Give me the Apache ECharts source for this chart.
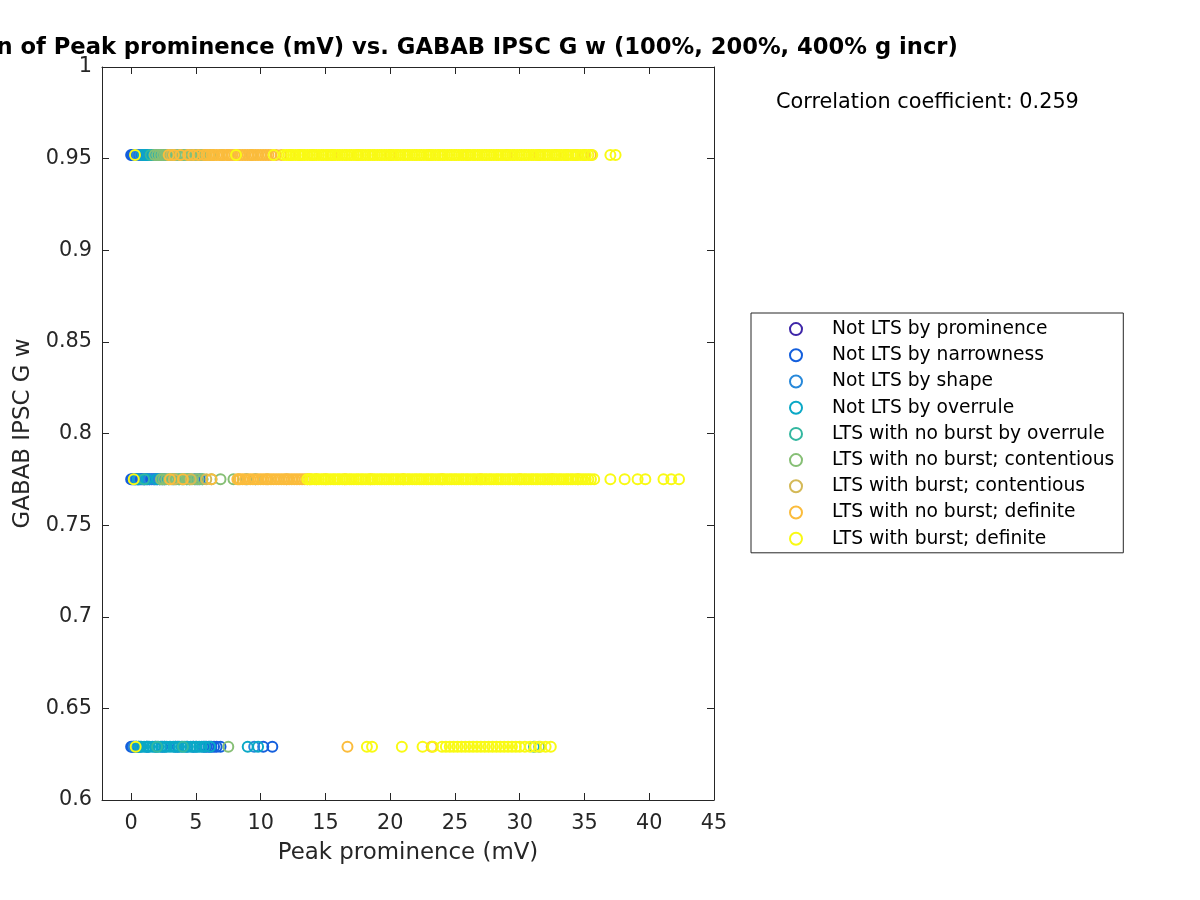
<!DOCTYPE html>
<html>
<head>
<meta charset="utf-8">
<script src="https://cdn.jsdelivr.net/npm/echarts@6/dist/echarts.min.js"></script>
<style>
html,body{margin:0;padding:0;background:#ffffff;}
#chart{width:1200px;height:900px;}
</style>
</head>
<body>
<div id="chart"></div>
<script>
// ---------- data ----------
const titleText = 'Distribution of Peak prominence (mV) vs. GABAB IPSC G w (100%, 200%, 400% g incr)';
const xAxisName = 'Peak prominence (mV)';
const yAxisName = 'GABAB IPSC G w';
const correlationText = 'Correlation coefficient: 0.259';

const seriesNames = [
  'Not LTS by prominence',
  'Not LTS by narrowness',
  'Not LTS by shape',
  'Not LTS by overrule',
  'LTS with no burst by overrule',
  'LTS with no burst; contentious',
  'LTS with burst; contentious',
  'LTS with no burst; definite',
  'LTS with burst; definite'
];
const seriesColors = ['#3E26A8','#145FDD','#2788DA','#0AA8C6','#33B7A0','#86BF75','#D4B957','#FBBC3C','#F9FA14'];

// y levels of the three rows (100%, 200%, 400% g incr)
const rowLevels = [0.952, 0.775, 0.629];

// x values (mV) per class, per row [hi, mid, lo]
const prominenceHi = [];
const prominenceMid = [];
const prominenceLo = [];

const narrownessHi = [0.0, 0.1, 0.15, 0.2, 0.3, 0.4, 0.5, 0.6, 0.7, 0.8, 0.95, 1.1];
const narrownessMid = [0.0, 0.1, 0.2, 0.3, 0.4, 0.5, 0.6, 0.7, 0.8, 0.9, 1.0, 1.1, 1.25, 1.4, 1.55, 1.7, 1.85, 2.0, 2.2, 2.4, 2.55, 4.9, 5.3];
const narrownessLo = [0.0, 0.1, 0.2, 0.3, 0.4, 0.55, 1.3, 2.4, 3.6, 4.8, 5.6, 5.8, 6.0, 6.2, 6.4, 6.6, 6.9, 10.2, 10.9];

const shapeHi = [0.3, 0.5, 0.7, 0.9, 1.1, 1.3, 1.5, 1.7, 2.0, 2.4];
const shapeMid = [0.3, 0.6, 1.0, 1.4, 1.8, 2.2, 2.6, 3.2, 4.0, 5.1];
const shapeLo = [0.2, 0.7, 1.2, 1.9, 2.6, 3.4, 4.3, 5.0, 9.5];

const overruleHi = [0.9, 1.1, 1.3, 1.5, 1.7, 1.9, 2.1, 2.3, 2.5, 2.7, 3.0, 3.4, 4.0, 4.8, 5.4];
const overruleMid = [0.5, 1.2, 2.0, 2.9, 3.7, 4.5, 8.9, 9.6];
const overruleLo = [0.4, 0.6, 0.8, 1.0, 1.2, 1.4, 1.65, 1.85, 2.1, 2.3, 2.55, 2.75, 3.0, 3.25, 3.45, 3.7, 3.9, 4.15, 4.35, 4.6, 4.8, 5.05, 5.25, 5.45, 5.7, 6.1, 9.0, 9.8, 31.1];

const noBurstOverruleHi = [1.5, 2.2, 3.0, 3.8, 4.6, 5.4, 6.1];
const noBurstOverruleMid = [1.0, 2.4, 3.4, 4.3, 5.5];
const noBurstOverruleLo = [2.0, 4.0];

const noBurstContentiousHi = [1.8, 2.0, 2.2, 2.4, 2.6, 2.8, 3.0, 3.2, 3.4, 3.6, 3.8, 4.0, 4.2, 4.4, 4.6, 4.8, 5.0, 5.2, 5.4, 5.6, 5.8, 6.2, 7.0];
const noBurstContentiousMid = [2.3, 2.5, 2.7, 2.9, 3.1, 3.3, 3.5, 3.7, 3.9, 4.1, 4.3, 4.5, 4.7, 5.0, 5.2, 5.5, 6.2, 6.9, 7.9];
const noBurstContentiousLo = [7.5, 31.5];

const burstContentiousHi = [3.1, 4.5, 6.3, 7.5, 9.3];
const burstContentiousMid = [3.3, 4.6, 5.8, 8.3, 10.5, 12.0];
const burstContentiousLo = [];

const noBurstDefiniteHi = [2.9, 3.3, 3.8, 4.4, 4.8, 5.2, 5.6, 5.8, 6.0, 6.2, 6.4, 6.6, 6.8, 7.0, 7.2, 7.4, 7.6, 7.8, 8.0, 8.2, 8.4, 8.6, 8.8, 9.0, 9.2, 9.4, 9.6, 9.8, 10.0, 10.2, 10.4, 10.6, 10.8, 11.2, 11.6, 12.3, 13.0, 14.0, 15.5, 17.5, 20.0, 23.0, 26.0, 29.0, 31.5, 32.8, 33.6, 34.3, 35.0, 35.5];
const noBurstDefiniteMid = [3.0, 4.0, 6.2, 8.2, 8.4, 8.6, 8.8, 9.0, 9.2, 9.4, 9.6, 9.8, 10.0, 10.2, 10.4, 10.6, 10.8, 11.0, 11.2, 11.4, 11.6, 11.8, 12.0, 12.2, 12.4, 12.6, 12.8, 13.0, 13.2, 13.4, 13.6, 13.8, 14.3, 15.0, 16.5, 18.5, 21.0, 24.0, 27.0, 30.0, 32.5, 34.5];
const noBurstDefiniteLo = [16.7, 23.2];

const burstDefiniteHi = [0.3, 8.1, 11.0, 11.8, 12.0, 12.15, 12.35, 12.5, 12.7, 12.9, 13.05, 13.25, 13.4, 13.6, 13.8, 13.95, 14.15, 14.3, 14.5, 14.7, 14.85, 15.05, 15.2, 15.4, 15.6, 15.75, 15.95, 16.1, 16.3, 16.5, 16.65, 16.85, 17.0, 17.2, 17.4, 17.55, 17.75, 17.9, 18.1, 18.3, 18.45, 18.65, 18.8, 19.0, 19.2, 19.35, 19.55, 19.7, 19.9, 20.1, 20.25, 20.45, 20.6, 20.8, 21.0, 21.15, 21.35, 21.5, 21.7, 21.9, 22.05, 22.25, 22.4, 22.6, 22.8, 22.95, 23.15, 23.3, 23.5, 23.7, 23.85, 24.05, 24.2, 24.4, 24.6, 24.75, 24.95, 25.1, 25.3, 25.5, 25.65, 25.85, 26.0, 26.2, 26.4, 26.55, 26.75, 26.9, 27.1, 27.3, 27.45, 27.65, 27.8, 28.0, 28.2, 28.35, 28.55, 28.7, 28.9, 29.1, 29.25, 29.45, 29.6, 29.8, 30.0, 30.15, 30.35, 30.5, 30.7, 30.9, 31.05, 31.25, 31.4, 31.6, 31.8, 31.95, 32.15, 32.3, 32.5, 32.7, 32.85, 33.05, 33.2, 33.4, 33.6, 33.75, 33.95, 34.1, 34.3, 34.5, 34.7, 34.9, 35.1, 35.3, 35.6, 37.0, 37.4];
const burstDefiniteMid = [0.2, 13.6, 13.8, 13.95, 14.15, 14.3, 14.5, 14.7, 14.85, 15.05, 15.2, 15.4, 15.6, 15.75, 15.95, 16.1, 16.3, 16.5, 16.65, 16.85, 17.0, 17.2, 17.4, 17.55, 17.75, 17.9, 18.1, 18.3, 18.45, 18.65, 18.8, 19.0, 19.2, 19.35, 19.55, 19.7, 19.9, 20.1, 20.25, 20.45, 20.6, 20.8, 21.0, 21.15, 21.35, 21.5, 21.7, 21.9, 22.05, 22.25, 22.4, 22.6, 22.8, 22.95, 23.15, 23.3, 23.5, 23.7, 23.85, 24.05, 24.2, 24.4, 24.6, 24.75, 24.95, 25.1, 25.3, 25.5, 25.65, 25.85, 26.0, 26.2, 26.4, 26.55, 26.75, 26.9, 27.1, 27.3, 27.45, 27.65, 27.8, 28.0, 28.2, 28.35, 28.55, 28.7, 28.9, 29.1, 29.25, 29.45, 29.6, 29.8, 30.0, 30.15, 30.35, 30.5, 30.7, 30.9, 31.05, 31.25, 31.4, 31.6, 31.8, 31.95, 32.15, 32.3, 32.5, 32.7, 32.85, 33.05, 33.2, 33.4, 33.6, 33.75, 33.95, 34.1, 34.3, 34.5, 34.7, 34.9, 35.1, 35.3, 35.5, 35.75, 37.0, 38.1, 39.1, 39.7, 41.1, 41.7, 42.3];
const burstDefiniteLo = [0.35, 18.2, 18.6, 20.9, 22.5, 23.3, 24.0, 24.3, 24.6, 24.9, 25.2, 25.5, 25.8, 26.1, 26.4, 26.7, 27.0, 27.3, 27.6, 27.9, 28.2, 28.5, 28.8, 29.1, 29.4, 29.7, 30.0, 30.4, 30.8, 31.2, 31.6, 32.0, 32.4];

const xTickValues = [0, 5, 10, 15, 20, 25, 30, 35, 40, 45];

// ---------- assembly ----------
const classRows = [
  [prominenceHi, prominenceMid, prominenceLo],
  [narrownessHi, narrownessMid, narrownessLo],
  [shapeHi, shapeMid, shapeLo],
  [overruleHi, overruleMid, overruleLo],
  [noBurstOverruleHi, noBurstOverruleMid, noBurstOverruleLo],
  [noBurstContentiousHi, noBurstContentiousMid, noBurstContentiousLo],
  [burstContentiousHi, burstContentiousMid, burstContentiousLo],
  [noBurstDefiniteHi, noBurstDefiniteMid, noBurstDefiniteLo],
  [burstDefiniteHi, burstDefiniteMid, burstDefiniteLo]
];

const FONT = 'DejaVu Sans';
const AX = '#262626';
const F = 20.8;

const series = seriesNames.map((name, i) => ({
  name: name,
  type: 'scatter',
  xAxisIndex: 0,
  yAxisIndex: 0,
  symbol: 'circle',
  symbolSize: 10,
  itemStyle: { color: 'rgba(0,0,0,0)', borderColor: seriesColors[i], borderWidth: 2, opacity: 1 },
  emphasis: { disabled: true },
  data: classRows[i].map((xs, r) => xs.map(x => [x, rowLevels[r]])).flat()
}));

const baseX = {
  type: 'value', min: -2.25, max: 45,
  splitLine: { show: false },
  axisLine: { show: true, onZero: false, lineStyle: { color: AX, width: 1 } },
  axisTick: { show: true, inside: true, length: 7, customValues: xTickValues, lineStyle: { color: AX } },
  axisLabel: { show: true, customValues: xTickValues, margin: 13, color: AX, fontFamily: FONT, fontSize: F },
  minorTick: { show: false }
};
const baseY = {
  type: 'value', min: 0.6, max: 1, interval: 0.05,
  splitLine: { show: false },
  axisLine: { show: true, onZero: false, lineStyle: { color: AX, width: 1 } },
  axisTick: { show: true, inside: true, length: 7, lineStyle: { color: AX } },
  axisLabel: { show: true, margin: 10, color: AX, fontFamily: FONT, fontSize: F,
    formatter: v => String(Math.round(v * 100) / 100) }
};

const option = {
  animation: false,
  backgroundColor: '#ffffff',
  grid: { left: 102, top: 67, right: 486, bottom: 100, outerBoundsMode: 'none', containLabel: false },
  xAxis: [
    Object.assign({}, baseX, {
      position: 'bottom',
      name: xAxisName, nameLocation: 'middle', nameGap: 42,
      nameTextStyle: { color: AX, fontFamily: FONT, fontSize: 22.9 }
    }),
    Object.assign({}, baseX, { position: 'top', axisLabel: { show: false } })
  ],
  yAxis: [
    Object.assign({}, baseY, {
      position: 'left',
      name: yAxisName, nameLocation: 'middle', nameGap: 61, nameRotate: 90,
      nameTextStyle: { color: AX, fontFamily: FONT, fontSize: 22.9 }
    }),
    Object.assign({}, baseY, { position: 'right', axisLabel: { show: false } })
  ],
  legend: {
    orient: 'vertical',
    left: 751, top: 313,
    padding: [3, 9, 1, 38],
    itemGap: 0,
    itemWidth: 12, itemHeight: 12,
    borderColor: AX, borderWidth: 1, borderRadius: 0,
    backgroundColor: '#ffffff',
    selectedMode: false,
    textStyle: { color: '#000000', fontFamily: FONT, fontSize: 18.7, lineHeight: 26.2, padding: [0, 0, 0, 25] },
    data: seriesNames.map((n, i) => ({
      name: n, icon: 'circle',
      itemStyle: { color: 'rgba(0,0,0,0)', borderColor: seriesColors[i], borderWidth: 2 }
    }))
  },
  graphic: [
    { type: 'text', x: 409, y: 48, silent: true,
      style: { text: titleText, align: 'center', verticalAlign: 'middle', fill: '#000000',
        font: 'bold 22.65px "DejaVu Sans"' } },
    { type: 'text', x: 776, y: 103, silent: true,
      style: { text: correlationText, align: 'left', verticalAlign: 'middle', fill: '#000000',
        font: '20.8px "DejaVu Sans"' } }
  ],
  series: series
};

const chart = echarts.init(document.getElementById('chart'), null, { renderer: 'canvas', width: 1200, height: 900 });
chart.setOption(option);
</script>
</body>
</html>
